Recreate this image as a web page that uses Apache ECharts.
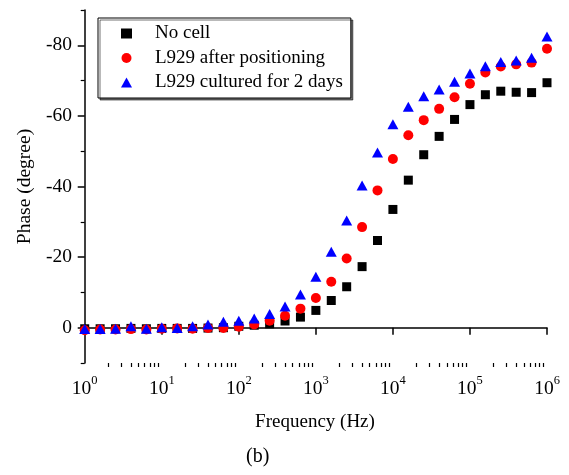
<!DOCTYPE html>
<html>
<head>
<meta charset="utf-8">
<script src="https://cdn.jsdelivr.net/npm/echarts@6/dist/echarts.min.js"></script>
<style>
    html, body { margin: 0; padding: 0; background: #fff; }
    #phase_chart { width: 569px; height: 475px; }
</style>
</head>
<body>
<div id="phase_chart"></div>
<script>
// frequency points, 5 per decade (Hz)
var frequencies = [1, 1.585, 2.512, 3.981, 6.31, 10, 15.85, 25.12, 39.81, 63.1,
    100, 158.5, 251.2, 398.1, 631, 1000, 1585, 2512, 3981, 6310,
    10000, 15850, 25120, 39810, 63100, 100000, 158500, 251200, 398100, 631000, 1000000];

var noCell = [0.3, 0.3, 0.3, 0.2, 0.3, 0.2, 0.2, 0.2, 0.1, 0, -0.4, -0.7, -1.1, -1.9, -3.0,
    -4.9, -7.7, -11.6, -17.3, -24.7, -33.5, -41.8, -49.0, -54.2, -59.0, -63.2, -66.0, -67.0, -66.7, -66.6, -69.4];

var afterPositioning = [0.7, 0.5, 0.5, 0.4, 0.5, 0.3, 0.2, 0.3, 0.1, 0.1, -0.3, -0.9, -2.0, -3.4, -5.4,
    -8.4, -13.0, -19.6, -28.5, -38.9, -47.8, -54.5, -58.8, -62.0, -65.3, -69.1, -72.3, -74.0, -74.6, -75.1, -79.0];

var cultured2Days = [0.4, 0.4, 0.3, -0.4, 0.3, -0.1, 0.1, -0.4, -0.9, -1.7, -2.0, -2.6, -3.9, -6.0, -9.4,
    -14.4, -21.5, -30.4, -40.3, -49.6, -57.6, -62.6, -65.6, -67.5, -69.7, -72.0, -74.1, -75.3, -75.7, -76.5, -82.5];

var seriesNames = ['No cell', 'L929 after positioning', 'L929 cultured for 2 days'];

var xMin = 0.95;
var xMax = 1000000;
var xMajorTicks = [1, 10, 100, 1000, 10000, 100000, 1000000];
var yMajorTicks = [-80, -60, -40, -20, 0];
var yMinorTicks = [-90, -70, -50, -30, -10, 10];

var font = 'Liberation Serif, Times New Roman, serif';

function makePairs(values) {
    var pairs = [];
    for (var i = 0; i < values.length; i++) {
        pairs.push([frequencies[i], values[i]]);
    }
    return pairs;
}

// tick axes are plain value axes in decades, so ticks land where the log axis puts them
function toDecades(list) {
    return list.map(function (v) { return Math.log(v) / Math.LN10; });
}

function logMinorTicks() {
    var ticks = [];
    for (var d = 1; d < xMax; d *= 10) {
        for (var k = 2; k < 10; k++) {
            ticks.push(k * d);
        }
    }
    return ticks;
}

function tickAxis(values, len, width) {
    return {
        type: 'value',
        min: Math.log(xMin) / Math.LN10,
        max: Math.log(xMax) / Math.LN10,
        position: 'bottom',
        axisLine: { show: false },
        axisTick: { show: true, customValues: toDecades(values), length: len, lineStyle: { color: '#000', width: width } },
        axisLabel: { show: false },
        splitLine: { show: false }
    };
}

var chart = echarts.init(document.getElementById('phase_chart'));

chart.setOption({
    backgroundColor: '#fff',
    animation: false,
    textStyle: { fontFamily: font },
    grid: { left: 83, right: 22, top: 10, bottom: 112 },
    legend: {
        orient: 'vertical',
        left: 98,
        top: 18,
        data: seriesNames,
        itemWidth: 11,
        itemHeight: 10,
        itemGap: 5.5,
        padding: [6, 8, 6, 23],
        backgroundColor: '#fff',
        borderColor: '#000',
        borderWidth: 1,
        borderRadius: 0,
        shadowColor: 'rgba(0,0,0,0.55)',
        shadowOffsetX: 2,
        shadowOffsetY: 2,
        shadowBlur: 0,
        textStyle: { fontFamily: font, fontSize: 19, color: '#000', lineHeight: 19, padding: [0, 0, 0, 18] }
    },
    xAxis: [{
        type: 'log',
        logBase: 10,
        min: xMin,
        max: xMax,
        name: 'Frequency (Hz)',
        nameLocation: 'middle',
        nameGap: 50,
        nameTextStyle: { fontFamily: font, fontSize: 19, color: '#000' },
        axisLine: { lineStyle: { color: '#000', width: 1.5 } },
        axisTick: { show: false },
        axisLabel: {
            customValues: xMajorTicks,
            margin: 11,
            formatter: function (value) {
                var exp = Math.round(Math.log(value) / Math.LN10);
                return '{b|10}{s|' + exp + '}';
            },
            rich: {
                b: { fontFamily: font, fontSize: 19.5, color: '#000', lineHeight: 22 },
                s: { fontFamily: font, fontSize: 12.5, color: '#000', padding: [0, 0, 16, 0] }
            }
        },
        splitLine: { show: false }
    },
        tickAxis(xMajorTicks, 7, 1.5),
        tickAxis(logMinorTicks(), 4, 1.2)
    ],
    yAxis: [{
        type: 'value',
        inverse: true,
        min: -90,
        max: 10,
        name: 'Phase (degree)',
        nameLocation: 'middle',
        nameGap: 48,
        nameTextStyle: { fontFamily: font, fontSize: 19.5, color: '#000' },
        axisLine: { show: true, lineStyle: { color: '#000', width: 1.5 } },
        axisTick: { show: true, customValues: yMajorTicks, length: 7, lineStyle: { color: '#000', width: 1.5 } },
        axisLabel: { customValues: yMajorTicks, margin: 11, fontFamily: font, fontSize: 19.5, color: '#000' },
        splitLine: { show: false }
    }, {
        type: 'value',
        inverse: true,
        min: -90,
        max: 10,
        position: 'left',
        axisLine: { show: false },
        axisTick: { show: true, customValues: yMinorTicks, length: 4, lineStyle: { color: '#000', width: 1.2 } },
        axisLabel: { show: false },
        splitLine: { show: false }
    }],
    graphic: [{
        type: 'text',
        left: 246,
        top: 447,
        style: { text: '(b)', font: '20px ' + font, fill: '#000' }
    }],
    series: [{
        name: seriesNames[0],
        type: 'scatter',
        symbol: 'rect',
        symbolSize: 9,
        itemStyle: { color: '#000', opacity: 1 },
        data: makePairs(noCell)
    }, {
        name: seriesNames[1],
        type: 'scatter',
        symbol: 'circle',
        symbolSize: 10,
        itemStyle: { color: '#ff0000', opacity: 1 },
        data: makePairs(afterPositioning)
    }, {
        name: seriesNames[2],
        type: 'scatter',
        symbol: 'triangle',
        symbolSize: [11, 10],
        itemStyle: { color: '#0000ff', opacity: 1 },
        data: makePairs(cultured2Days)
    }]
});
</script>
</body>
</html>
